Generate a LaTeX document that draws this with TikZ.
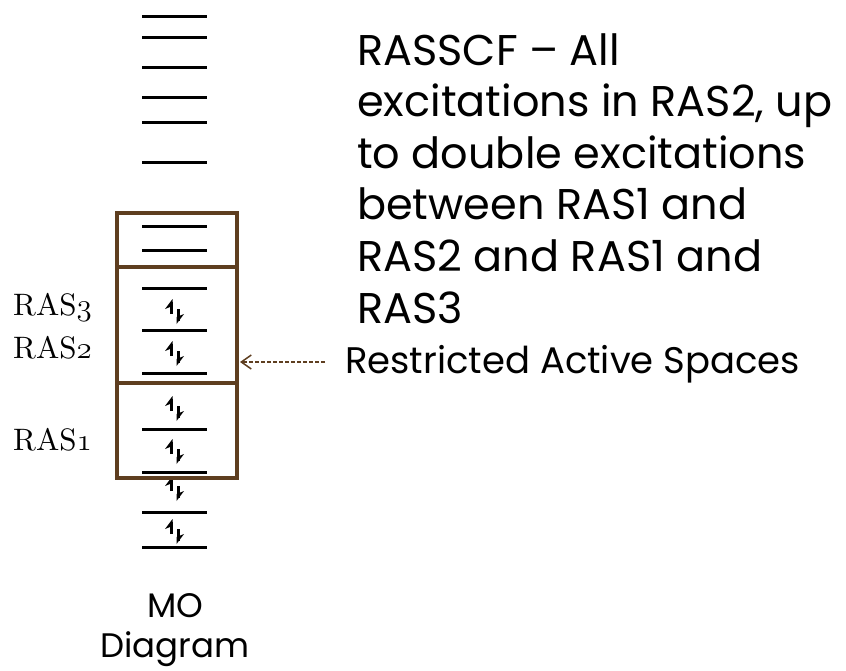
\documentclass[tikz,border=0pt]{standalone}
\usepackage{fix-cm}
\usepackage{fontspec}
\newfontfamily\mont{Poppins}
\newfontfamily\rasfont{lmroman10-regular}[Extension=.otf]
\usetikzlibrary{arrows.meta}
\definecolor{boxbrown}{RGB}{94,62,32}
\begin{document}
\begin{tikzpicture}[x=1pt,y=-1pt,
  level/.style={line width=3pt},
  rasbox/.style={draw=boxbrown,line width=3.5pt,inner sep=0pt,minimum width=120pt},
  harp/.style={line width=3pt},
  barb/.style={fill=black},
  epair/.pic={
    \draw[harp] (-4,1) -- (-4,-11);
    \fill[barb] (-2.5,-14) -- (-10,-4) -- (-2.5,-7) -- cycle;
    \draw[harp] (3,-4) -- (3,8);
    \fill[barb] (1.5,11) -- (9,1) -- (1.5,4) -- cycle;
  },
  maintext/.style={font=\mont\fontsize{43}{51.6}\selectfont,align=left,inner sep=0pt},
  resttext/.style={font=\mont\fontsize{37}{44}\selectfont,inner sep=0pt},
  motext/.style={font=\mont\fontsize{34}{40}\selectfont,align=center,inner sep=0pt},
  raslabel/.style={font=\rasfont\fontsize{31}{38}\selectfont,inner sep=0pt,anchor=base west},
  pointer/.style={draw=boxbrown,line width=1.5pt,dash pattern=on 4pt off 2pt,-{Straight Barb[length=10pt,width=14pt]}}
]
\useasboundingbox (0,0) rectangle (846,670);
% orbital levels
\foreach \y in {16,37,67,97,122,162,226,250,288,330,373,429,472,512,547}
  \draw[level] (142,\y) -- (207,\y);
% electron pairs
\foreach \y in {313,355,410,453,490,533}
  \pic at (175,\y) {epair};
% RAS boxes
\node[rasbox,minimum height=54pt] (box3) at (177,240) {};
\node[rasbox,minimum height=116pt] (box2) at (177,325) {};
\node[rasbox,minimum height=95pt] (box1) at (177,430.5) {};
% labels
\node[raslabel] (r3) at (13,315) {RAS$\mathnormal{3}$};
\node[raslabel] (r2) at (13,358) {RAS$\mathnormal{2}$};
\node[raslabel] (r1) at (13,450) {RAS$\mathnormal{1}$};
\node[maintext,anchor=north west] (desc) at (357,33)
  {RASSCF – All\\excitations in RAS2, up\\to double excitations\\between RAS1 and\\RAS2 and RAS1 and\\RAS3};
\node[resttext,anchor=base west] (rest) at (345,373) {Restricted Active Spaces};
\node[motext,anchor=north] (mo) at (175,593) {MO\\Diagram};
% pointer
\coordinate (tip) at (240,362);
\draw[pointer] ([xshift=-20pt]rest.west |- tip) -- (tip);
\end{tikzpicture}
\end{document}
